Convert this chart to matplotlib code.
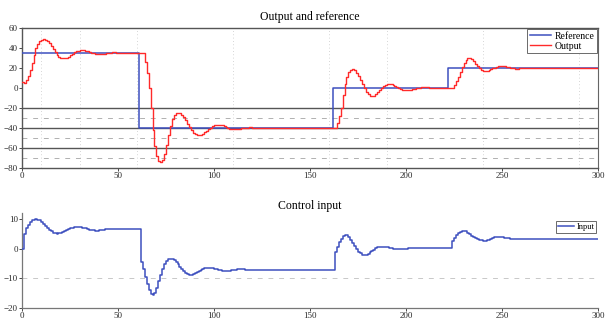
import numpy as np
import matplotlib
matplotlib.use("Agg")
import matplotlib.pyplot as plt

plt.rcParams["font.family"] = ["Liberation Serif", "DejaVu Serif"]

# Sampling period of the simulation (time units)
Ts = 1

# Reference set-point changes: (switch time, level)
ref_times = [0, 61, 162, 222, 300]
ref_levels = [35, -40, 0, 20, 20]

# Plant output, one sample per time unit, t = 0 .. 300
output = (
    [6, 5, 8, 12, 18, 25, 33, 40, 44, 47]                               # t 0
    + [48.5, 49, 48.5, 47, 45, 42, 39, 36, 33.5, 31.5]                  # t 10
    + [30.5, 30, 30, 30.5, 31.5, 33, 34.5, 36, 37, 37.5]                # t 20
    + [38, 38, 37.8, 37.3, 36.7, 36, 35.3, 34.7, 34.3, 34]              # t 30
    + [34, 34, 34.2, 34.5, 34.9, 35.2, 35.5, 35.6, 35.6, 35.5]          # t 40
    + [35.4, 35.3, 35.2, 35.1, 35, 35, 35, 35, 35, 35]                  # t 50
    + [35, 35, 35, 35, 26, 15, 0, -20, -42, -58]                        # t 60
    + [-68, -73, -74, -72, -66, -57, -47, -38, -31, -27]                # t 70
    + [-25, -24.5, -25, -26.5, -29, -32, -35.5, -39, -42, -44.5]        # t 80
    + [-46, -47, -47, -46.5, -45.5, -44, -42.5, -41, -39.5, -38]        # t 90
    + [-37, -36.5, -36.5, -36.8, -37.3, -38, -39, -39.8, -40.5, -41]    # t 100
    + [-41.2, -41.2, -41, -40.7, -40.3, -40, -39.7, -39.5, -39.4, -39.4]  # t 110
    + [-39.5, -39.6, -39.8] + [-40] * 41                                # t 120 .. 163
    + [-35, -28, -20, -7, 4, 11]                                        # t 164
    + [16, 18.5, 19, 18, 15.5, 12, 8, 4, 0, -3.5]                       # t 170
    + [-6, -7.5, -8, -7.5, -6, -4, -2, 0, 1.8, 3]                       # t 180
    + [3.8, 4, 3.7, 3, 2, 1, 0, -1, -1.6, -2]                           # t 190
    + [-2, -2, -1.7, -1.2, -0.7, -0.2, 0.2, 0.5, 0.7, 0.8]              # t 200
    + [0.8, 0.7, 0.5, 0.3, 0.1, 0, 0, 0, 0, 0]                          # t 210
    + [0, 0, 0, 0, 0, 3, 7, 11, 16, 21]                                 # t 220
    + [25.5, 28.5, 30, 30, 29, 27, 24.5, 22, 19.8, 18.2]                # t 230
    + [17.2, 17, 17.2, 17.8, 18.7, 19.6, 20.5, 21.3, 21.8, 22]          # t 240
    + [22, 21.8, 21.4, 21, 20.5, 20, 19.7, 19.5, 19.5, 19.6]            # t 250
    + [19.8] + [20] * 40                                                # t 260 .. 300
)

# Controller output, one sample per time unit, t = 0 .. 300
control = (
    [0, 5, 7, 8, 9, 9.5, 9.8, 10, 9.8, 9.5]                             # t 0
    + [9, 8.3, 7.6, 6.9, 6.3, 5.8, 5.4, 5.1, 5, 5.1]                    # t 10
    + [5.3, 5.6, 6, 6.3, 6.6, 6.9, 7.1, 7.2, 7.3, 7.3]                  # t 20
    + [7.2, 7.1, 7, 6.8, 6.6, 6.4, 6.3, 6.2, 6.1, 6.1]                  # t 30
    + [6.2, 6.3, 6.4] + [6.5] * 19                                      # t 40 .. 61
    + [-4.5, -7, -9.5, -12, -14, -15.2, -15.5, -14.8]                   # t 62
    + [-13.2, -11, -8.8, -6.8, -5.2, -4.2, -3.6, -3.4, -3.5, -3.9]      # t 70
    + [-4.5, -5.3, -6.1, -6.9, -7.6, -8.2, -8.6, -8.8, -8.8, -8.6]      # t 80
    + [-8.3, -7.9, -7.5, -7.1, -6.8, -6.6, -6.4, -6.4, -6.4, -6.6]      # t 90
    + [-6.8, -7, -7.2, -7.3, -7.4, -7.5, -7.5, -7.5, -7.4, -7.3]        # t 100
    + [-7.2, -7.1, -7, -7, -7, -7, -7.1] + [-7.2] * 46                  # t 110 .. 162
    + [-1.2, 0.7, 2.2, 3.4, 4.2, 4.6, 4.5]                              # t 163
    + [3.9, 3, 1.9, 0.8, -0.2, -1, -1.6, -2, -2.2, -2.1]                # t 170
    + [-1.8, -1.3, -0.8, -0.3, 0.1, 0.4, 0.6, 0.7, 0.7, 0.6]            # t 180
    + [0.5, 0.3, 0.1, 0, -0.1, -0.2, -0.2, -0.2, -0.1, 0]               # t 190
    + [0, 0.1] + [0.2] * 22                                             # t 200 .. 223
    + [2.5, 3.7, 4.5, 5.2, 5.7, 6]                                      # t 224
    + [6, 5.8, 5.4, 4.9, 4.4, 3.9, 3.5, 3.1, 2.9, 2.8]                  # t 230
    + [2.7, 2.7, 2.8, 3, 3.3, 3.6, 3.8, 4, 4, 3.9]                      # t 240
    + [3.8, 3.7, 3.6, 3.5] + [3.4] * 47                                 # t 250 .. 300
)

t_out = np.arange(len(output)) * Ts
t_ctl = np.arange(len(control)) * Ts

# Axis ranges and ticks
x_ticks = [0, 50, 100, 150, 200, 250, 300]
y1_ticks = [-80, -60, -40, -20, 0, 20, 40, 60]
y2_ticks = [-20, -10, 0, 10]
grid_x = [10, 30, 60, 110, 160, 190, 240, 290]
solid_y1 = [-20, -40, -60]
dotted_y1 = [-30, -50, -70]

blue = "#3d4fbf"
red = "#ff2a2a"
tick_col = "#2a2a2a"

W, H = 606, 320
fig = plt.figure(figsize=(W / 100, H / 100), dpi=100)

# ---- upper panel -------------------------------------------------------
ax1 = fig.add_axes([22 / W, 1 - 168 / H, 576 / W, 140 / H])
ax1.set_xlim(0, 300)
ax1.set_ylim(-80, 60)
for gx in grid_x:
    ax1.axvline(gx, color="#c8c8c8", lw=0.6, ls=(0, (1, 3)), zorder=0)
for gy in dotted_y1:
    ax1.axhline(gy, color="#b0b0b0", lw=0.7, ls=(0, (5, 6)), zorder=0)
for gy in solid_y1:
    ax1.axhline(gy, color="#555555", lw=1.0, zorder=1)

ax1.step(ref_times, ref_levels, where="post", color=blue, lw=1.1,
         label="Reference", zorder=3)
ax1.step(t_out, output, where="post", color=red, lw=1.0,
         label="Output", zorder=4)

ax1.set_xticks(x_ticks)
ax1.set_yticks(y1_ticks)
ax1.tick_params(labelsize=6.5, length=2, width=0.6, colors=tick_col, pad=1)
for side in ("top", "bottom", "left"):
    ax1.spines[side].set_color("#555555")
    ax1.spines[side].set_linewidth(1.0)
ax1.spines["right"].set_color("#666666")
ax1.spines["right"].set_linewidth(0.8)
ax1.set_title("Output and reference", fontsize=8.5, pad=6)
leg1 = ax1.legend(loc="upper right", fontsize=7, frameon=True,
                  fancybox=False, borderpad=0.25, labelspacing=0.1,
                  handlelength=2.2, handletextpad=0.3, borderaxespad=0.15)
leg1.get_frame().set_edgecolor("#444444")
leg1.get_frame().set_linewidth(0.7)

# ---- lower panel -------------------------------------------------------
ax2 = fig.add_axes([22 / W, 12 / H, 576 / W, 95 / H])
ax2.set_xlim(0, 300)
ax2.set_ylim(-20, 12)
ax2.axhline(-10, color="#c8c8c8", lw=0.7, ls=(0, (5, 6)), zorder=0)
ax2.step(t_ctl, control, where="post", color=blue, lw=1.1, label="Input",
         zorder=3)
ax2.set_xticks(x_ticks)
ax2.set_yticks(y2_ticks)
ax2.tick_params(labelsize=6.5, length=2, width=0.6, colors=tick_col, pad=1)
ax2.spines["top"].set_visible(False)
ax2.spines["right"].set_visible(False)
for side in ("bottom", "left"):
    ax2.spines[side].set_color("#777777")
    ax2.spines[side].set_linewidth(0.9)
ax2.set_title("Control input", fontsize=8.5, pad=3)
leg2 = ax2.legend(loc="upper right", bbox_to_anchor=(1.0, 0.93),
                  fontsize=6, frameon=True, fancybox=False, borderpad=0.2,
                  handlelength=2.0, handletextpad=0.3, borderaxespad=0.2)
leg2.get_frame().set_edgecolor("#444444")
leg2.get_frame().set_linewidth(0.7)

fig.savefig("out.png", dpi=100)
